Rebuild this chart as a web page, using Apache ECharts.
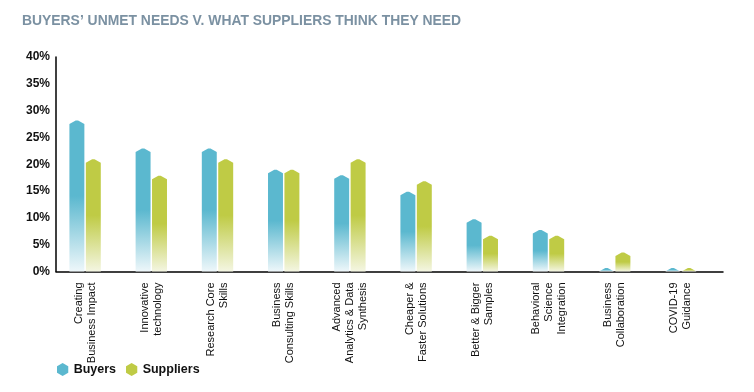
<!DOCTYPE html>
<html><head><meta charset="utf-8">
<script src="https://cdn.jsdelivr.net/npm/echarts@6/dist/echarts.min.js"></script>
<style>html,body{margin:0;padding:0;background:#fff}#c{width:754px;height:392px}</style>
</head><body><div id="c"></div>
<script>
const categories = [
  "Creating\nBusiness Impact",
  "Innovative\ntechnology",
  "Research Core\nSkills",
  "Business\nConsulting Skills",
  "Advanced\nAnalytics & Data\nSynthesis",
  "Cheaper &\nFaster Solutions",
  "Better & Bigger\nSamples",
  "Behavioral\nScience\nIntegration",
  "Business\nCollaboration",
  "COVID-19\nGuidance"
];
const buyers    = [27.5, 22.3, 22.3, 18.3, 17.3, 14.2, 9.1, 7.1, 0, 0];
const suppliers = [20.3, 17.2, 20.3, 18.3, 20.3, 16.2, 6.0, 6.0, 2.9, 0];
const seriesNames = ["Buyers", "Suppliers"];
const yMin = 0, yMax = 40, yStep = 5;

const BLUE = "#5bb8cf", BLUE_FADE = "#eef7fa";
const GREEN = "#bfcb45", GREEN_FADE = "#f4f6e2";

function makeRender(side, color, fade) {
  return function (params, api) {
    const idx = api.value(0), v = api.value(1);
    const top = api.coord([idx, v]);
    const base = api.coord([idx, 0]);
    const band = api.size([1, 0])[0];
    const w = band * 0.226;
    const gap = band * 0.022;
    const x0 = side < 0 ? top[0] - gap / 2 - w : top[0] + gap / 2;
    const x1 = x0 + w;
    const xc = (x0 + x1) / 2;
    const tip = 3.5;
    const pts = [
      [x0, base[1]], [x0, top[1]], [xc - 1.2, top[1] - tip],
      [xc + 1.2, top[1] - tip], [x1, top[1]], [x1, base[1]]
    ];
    return {
      type: "polygon",
      shape: { points: pts },
      style: {
        fill: new echarts.graphic.LinearGradient(0, 0, 0, 1, [
          { offset: 0, color: color },
          { offset: 0.5, color: color },
          { offset: 1, color: fade }
        ])
      }
    };
  };
}

const chart = echarts.init(document.getElementById("c"));
chart.setOption({
  animation: false,
  backgroundColor: "#fff",
  title: {
    text: "BUYERS\u2019 UNMET NEEDS V. WHAT SUPPLIERS THINK THEY NEED",
    left: 22, top: 14, padding: 0,
    textStyle: { fontFamily: "Liberation Sans", fontWeight: "bold", fontSize: 13.9, color: "#7b91a2" }
  },
  legend: {
    data: seriesNames,
    left: 52, top: 358,
    icon: "path://M0,-1L0.866,-0.5L0.866,0.5L0,1L-0.866,0.5L-0.866,-0.5Z",
    itemWidth: 12, itemHeight: 13, itemGap: 10,
    textStyle: { fontFamily: "Liberation Sans", fontWeight: "bold", fontSize: 12.5, color: "#111" }
  },
  grid: [
    { left: 52, right: 40, top: 57, bottom: 120.5 },
    { left: 56, right: 31, top: 57, bottom: 120.5 }
  ],
  xAxis: [
    {
      type: "category", gridIndex: 0, data: categories,
      axisLine: { show: false }, axisTick: { show: false },
      axisLabel: {
        rotate: 90, margin: 11, interval: 0,
        fontFamily: "Liberation Sans", fontSize: 11, color: "#111", lineHeight: 13
      }
    },
    {
      type: "category", gridIndex: 1, data: [""],
      axisLine: { show: true, lineStyle: { color: "#000", width: 1.5 } },
      axisTick: { show: false }, axisLabel: { show: false }
    }
  ],
  yAxis: [
    { type: "value", gridIndex: 0, min: yMin, max: yMax, interval: yStep, show: false },
    {
      type: "value", gridIndex: 1, min: yMin, max: yMax, interval: yStep,
      axisLine: { show: true, lineStyle: { color: "#000", width: 1.5 } },
      axisTick: { show: false }, splitLine: { show: false },
      axisLabel: {
        formatter: "{value}%", margin: 6,
        fontFamily: "Liberation Sans", fontWeight: "bold", fontSize: 12, color: "#111"
      }
    }
  ],
  series: [
    {
      name: seriesNames[0], type: "custom", xAxisIndex: 0, yAxisIndex: 0,
      itemStyle: { color: BLUE },
      renderItem: makeRender(-1, BLUE, BLUE_FADE),
      data: buyers.map((v, i) => [i, v])
    },
    {
      name: seriesNames[1], type: "custom", xAxisIndex: 0, yAxisIndex: 0,
      itemStyle: { color: GREEN },
      renderItem: makeRender(1, GREEN, GREEN_FADE),
      data: suppliers.map((v, i) => [i, v])
    }
  ]
});
</script>
</body></html>
